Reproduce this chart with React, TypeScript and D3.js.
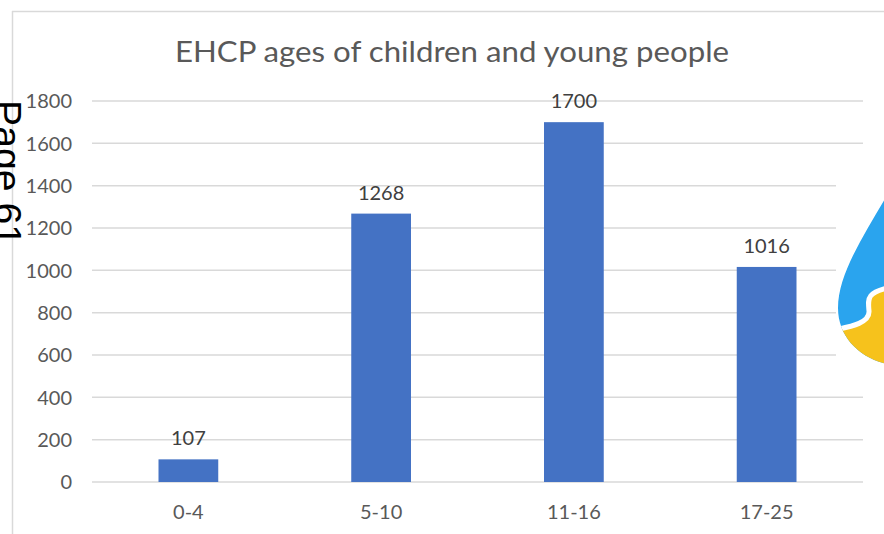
import React from 'react';
import * as d3 from 'd3';

const ages = ['0-4', '5-10', '11-16', '17-25'];
const counts = [107, 1268, 1700, 1016];
const yTicks = [0, 200, 400, 600, 800, 1000, 1200, 1400, 1600, 1800];

const W = 884;
const H = 534;
const FONT = 'Lato, "Open Sans", sans-serif';

export default function App() {
  const x = d3.scaleBand<string>().domain(ages).range([92, 863]).padding(0);
  const y = d3.scaleLinear().domain([0, 1800]).range([482, 101]);
  const barW = x.bandwidth() * 0.31;

  return (
    <svg width={W} height={H} style={{ position: 'absolute', left: 0, top: 0, background: '#fff' }}>
      {/* chart frame */}
      <line x1={12} y1={11.5} x2={W} y2={11.5} stroke='#d9d9d9' strokeWidth={1.5} />
      <line x1={12.5} y1={11} x2={12.5} y2={H} stroke='#d9d9d9' strokeWidth={1.5} />

      <text x={452} y={62} textAnchor='middle' fontFamily={FONT} fontSize={29} fill='#595959'
        textLength={554} lengthAdjust='spacingAndGlyphs'>
        EHCP ages of children and young people
      </text>

      {/* gridlines */}
      {yTicks.map(t => (
        <line key={t} x1={92} x2={863} y1={y(t)} y2={y(t)} stroke='#d9d9d9' strokeWidth={1.5} />
      ))}
      {yTicks.map(t => (
        <text key={'l' + t} x={72} y={y(t)} dy='0.36em' textAnchor='end'
          fontFamily={FONT} fontSize={20} fill='#595959'>{t}</text>
      ))}

      {/* bars */}
      {ages.map((a, i) => {
        const cx = (x(a) as number) + x.bandwidth() / 2;
        return (
          <g key={a}>
            <rect x={cx - barW / 2} y={y(counts[i])} width={barW} height={y(0) - y(counts[i])} fill='#4472c4' />
            <text x={cx} y={y(counts[i]) - 14} textAnchor='middle' fontFamily={FONT} fontSize={20} fill='#404040'>
              {counts[i]}
            </text>
            <text x={cx} y={519} textAnchor='middle' fontFamily={FONT} fontSize={20} fill='#595959'>{a}</text>
          </g>
        );
      })}

      {/* logo cut-off at right edge */}
      <rect x={836} y={170} width={48} height={200} fill='#fff' />
      <clipPath id='drop'>
        <path d='M 905 160 C 885 208, 838 262, 838 308 C 838 342, 868 366, 905 366 Z' />
      </clipPath>
      <g clipPath='url(#drop)'>
        <rect x={830} y={160} width={60} height={220} fill='#2aa4ee' />
        <path d='M 830 331 C 848 327, 870 324, 869 311 C 868 299, 866 292, 892 287 L 900 287 L 900 380 L 830 380 Z' fill='#f6c21c' />
        <path d='M 830 331 C 848 327, 870 324, 869 311 C 868 299, 866 292, 892 287' fill='none' stroke='#fff' strokeWidth={5} />
      </g>

      {/* page number stamped across the left edge */}
      <text transform='translate(-6,100) rotate(90)' fontFamily='"Liberation Sans", Arial, sans-serif'
        fontSize={38} fill='#000' textLength={146} lengthAdjust='spacingAndGlyphs'>Page 61</text>
    </svg>
  );
}
